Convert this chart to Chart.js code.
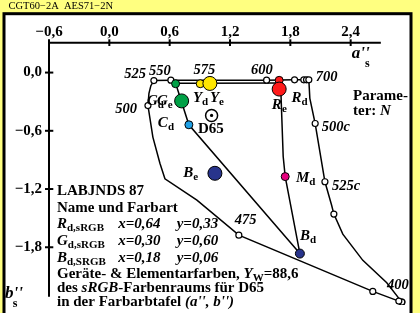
<!DOCTYPE html>
<html><head><meta charset="utf-8">
<script src="https://cdn.jsdelivr.net/npm/chart.js@4.4.1/dist/chart.umd.min.js"></script>
<style>html,body{margin:0;padding:0;background:#ffff80;overflow:hidden}canvas{display:block}</style>
</head><body>
<canvas id="c" width="420" height="313" style="width:420px;height:313px"></canvas>
<script>
// ---------- data ----------
const titleText = 'CGT60\u22122A  AES71\u22122N';
const xTicks = [-0.6, 0, 0.6, 1.2, 1.8, 2.4];
const yTicks = [0, -0.6, -1.2, -1.8];

// spectral locus (a'', b'')
const locusA = [2.909, 2.879, 2.620, 1.288, 0.871, 0.553, 0.503, 0.433, 0.384, 0.394, 0.413, 0.443, 0.612, 1.000, 1.564, 1.842, 1.934, 1.961, 1.984];
const locusB = [-2.365, -2.355, -2.255, -1.675, -1.315, -1.095, -0.935, -0.665, -0.340, -0.215, -0.135, -0.082, -0.078, -0.078, -0.078, -0.075, -0.075, -0.075, -0.075];
const locusMark = [1, 1, 1, 1, 0, 0, 0, 0, 1, 0, 0, 1, 1, 1, 1, 1, 1, 1, 1];
const locusLabels = ['400', '475', '500', '525', '550', '575', '600', '700'];
const locusLabelIdx = [0, 3, 8, 11, 12, 13, 14, 18];

// complementary (c) curve
const cCurveA = [1.984, 1.994, 2.047, 2.144, 2.210, 2.233, 2.322, 2.521, 2.759, 2.909];
const cCurveB = [-0.075, -0.265, -0.525, -1.125, -1.365, -1.458, -1.665, -1.935, -2.165, -2.365];
const cCurveMark = [0, 0, 1, 1, 0, 1, 0, 0, 0, 1];
const cCurveLabels = ['500c', '525c'];
const cCurveLabelIdx = [2, 3];

// device colours (d) and elementary colours (e)
const devNames = ['R', 'Y', 'G', 'C', 'B', 'M'];
const devA = [1.689, 0.904, 0.659, 0.791, 1.895, 1.749];
const devB = [-0.080, -0.115, -0.115, -0.538, -1.865, -1.072];
const devColors = ['#ff1a1a', '#ffe600', '#00a046', '#1ea0e6', '#28348c', '#e6007e'];
const elemNames = ['R', 'Y', 'G', 'B'];
const elemA = [1.689, 1.000, 0.719, 1.050];
const elemB = [-0.170, -0.112, -0.292, -1.038];
const elemColors = ['#ff1a1a', '#ffe600', '#00a046', '#28348c'];
const d65A = [1.017];
const d65B = [-0.442];

// gamut edges
const edgeTopA = [1.689, 0.904, 0.659];
const edgeTopB = [-0.108, -0.110, -0.110];
const edgeGCBA = [0.659, 0.791, 1.895];
const edgeGCBB = [-0.110, -0.538, -1.865];
const edgeRMBA = [1.689, 1.707, 1.729, 1.749, 1.895];
const edgeRMBB = [-0.080, -0.225, -0.865, -1.072, -1.865];

// text block
const blockTitle = 'LABJNDS 87';
const blockSub = 'Name und Farbart';
const primNames = ['R', 'G', 'B'];
const primSubs = ['d,sRGB', 'd,sRGB', 'd,SRGB'];
const primX = ['x=0,64', 'x=0,30', 'x=0,18'];
const primY = ['y=0,33', 'y=0,60', 'y=0,06'];
const yW = '=88,6';

const xAxisEnd = 2.7;
const yAxisEnd = -2.31;

// ---------- drawing ----------
const fam = '"Liberation Serif", "Times New Roman", serif';
const F = (w, s) => `${w} ${s}px ${fam}`;
const B15 = F('bold', 15), BI15 = F('italic bold', 15), SUB = F('bold', 11), BI14 = F('italic bold', 14.5);
const pts = (A, B) => A.map((a, i) => ({ x: a, y: B[i] }));
const fmt = v => (v < 0 ? '\u2212' : '') + Math.abs(v).toFixed(1).replace('.', ',');

function runs(c, x, y, list) {
  for (const r of list) {
    c.font = r.f;
    c.fillText(r.t, x, y + (r.dy || 0));
    x += c.measureText(r.t).width;
  }
  return x;
}

const overlay = {
  id: 'overlay',
  beforeDraw(chart) {
    const c = chart.ctx;
    c.save();
    c.fillStyle = '#ffff80'; c.fillRect(0, 0, chart.width, chart.height);
    c.fillStyle = '#fff'; c.fillRect(4, 13.7, 407, 320);
    c.strokeStyle = '#000'; c.lineWidth = 3; c.strokeRect(4, 13.7, 407, 320);
    c.fillStyle = '#000'; c.font = F('normal', 10.5); c.textBaseline = 'alphabetic'; c.textAlign = 'left';
    c.fillText(titleText, 8.5, 8.5);
    c.restore();
  },
  afterDraw(chart) {
    const c = chart.ctx, xs = chart.scales.x, ys = chart.scales.y;
    const X = v => xs.getPixelForValue(v), Y = v => ys.getPixelForValue(v);
    c.save();
    c.strokeStyle = '#000'; c.fillStyle = '#000'; c.lineWidth = 2;
    const ay = chart.chartArea.top + 0.7, ax = X(-0.6);
    c.beginPath(); c.moveTo(ax - 1, ay); c.lineTo(X(xAxisEnd), ay); c.stroke();
    c.beginPath(); c.moveTo(ax, ay - 1); c.lineTo(ax, Y(yAxisEnd)); c.stroke();
    for (const v of xTicks) { const p = X(v); c.beginPath(); c.moveTo(p, ay - 3.4); c.lineTo(p, ay + 3.3); c.stroke(); }
    for (const v of yTicks) { const p = Y(v); c.beginPath(); c.moveTo(ax - 4, p); c.lineTo(ax + 4.3, p); c.stroke(); }

    c.textBaseline = 'alphabetic';
    // axis titles
    runs(c, 351.7, 58.3, [{ t: "a''", f: F('italic bold', 17) }]);
    runs(c, 365, 66.7, [{ t: 's', f: F('bold', 12) }]);
    runs(c, 5, 298, [{ t: "b''", f: F('italic bold', 17) }]);
    runs(c, 12.7, 307, [{ t: 's', f: F('bold', 12) }]);

    // wavelength labels
    const wlOff = [[-4, -13, 'center'], [-4, -11, 'left'], [-11, 7.5, 'right'], [-8, -3, 'right'], [0, -5, 'right'], [-5.5, -6, 'center'], [-4.7, -6, 'center'], [7, 1, 'left']];
    c.font = BI14;
    locusLabels.forEach((t, k) => {
      const i = locusLabelIdx[k], o = wlOff[k];
      c.textAlign = o[2];
      c.fillText(t, X(locusA[i]) + o[0], Y(locusB[i]) + o[1]);
    });
    const cOff = [[6.7, 7.5], [7, 8]];
    c.textAlign = 'left';
    cCurveLabels.forEach((t, k) => {
      const i = cCurveLabelIdx[k];
      c.fillText(t, X(cCurveA[i]) + cOff[k][0], Y(cCurveB[i]) + cOff[k][1]);
    });

    // point labels
    const devOff = { R: [12.4, 21.5], Y: [-7.3, 18], G: [-28.7, 21.5], C: [-31, 2.7], B: [0, -14], M: [10.7, 5.3] };
    devNames.forEach((n, i) => {
      const o = devOff[n];
      runs(c, X(devA[i]) + o[0], Y(devB[i]) + o[1], [{ t: n, f: BI15 }, { t: 'd', f: SUB, dy: 3 }]);
    });
    const elemOff = { R: [-7.3, 19.5], Y: [0, 18.3], G: [-24.7, 3.8], B: [-31.7, 3.4] };
    elemNames.forEach((n, i) => {
      const o = elemOff[n];
      runs(c, X(elemA[i]) + o[0], Y(elemB[i]) + o[1], [{ t: n, f: BI15 }, { t: 'e', f: SUB, dy: 3 }]);
    });
    runs(c, X(d65A[0]) - 13.7, Y(d65B[0]) + 17.3, [{ t: 'D65', f: B15 }]);

    // parameter note
    runs(c, 353, 100, [{ t: 'Parame-', f: B15 }]);
    runs(c, 353, 115, [{ t: 'ter: ', f: B15 }, { t: 'N', f: BI15 }]);

    // text block
    const L = 57;
    runs(c, L, 195, [{ t: blockTitle, f: B15 }]);
    runs(c, L, 211.5, [{ t: blockSub, f: B15 }]);
    const rowY = [228, 244.8, 261.5];
    primNames.forEach((n, i) => {
      runs(c, L, rowY[i], [{ t: n, f: BI15 }, { t: primSubs[i], f: SUB, dy: 3 }]);
      runs(c, 118.3, rowY[i], [{ t: primX[i], f: BI15 }]);
      runs(c, 176.7, rowY[i], [{ t: primY[i], f: BI15 }]);
    });
    runs(c, L, 278, [{ t: 'Ger\u00e4te- & Elementarfarben, ', f: B15 }, { t: 'Y', f: BI15 }, { t: 'W', f: SUB, dy: 3 }, { t: yW, f: B15 }]);
    runs(c, L, 291.7, [{ t: 'des ', f: B15 }, { t: 'sRGB', f: BI15 }, { t: '-Farbenraums f\u00fcr D65', f: B15 }]);
    runs(c, L, 305.5, [{ t: 'in der Farbarbtafel ', f: B15 }, { t: "(a'', b'')", f: BI15 }]);
    c.restore();
  }
};

const lineDS = (A, B, extra) => Object.assign({
  data: pts(A, B), showLine: true, borderColor: '#000', borderWidth: 1.5, fill: false, tension: 0,
  pointRadius: 0, pointBackgroundColor: '#fff', pointBorderColor: '#000', pointBorderWidth: 1.2
}, extra);

const zeroPad = s => { s.paddingTop = 0; s.paddingBottom = 0; s.paddingLeft = 0; s.paddingRight = 0; };

new Chart(document.getElementById('c'), {
  type: 'scatter',
  data: {
    datasets: [
      lineDS(locusA, locusB, { label: 'locus', pointRadius: locusMark.map(m => m ? 3 : 0), order: 10 }),
      lineDS(cCurveA, cCurveB, { label: 'c', pointRadius: cCurveMark.map(m => m ? 3 : 0), order: 10 }),
      lineDS(edgeTopA, edgeTopB, { label: 'top', order: 11 }),
      lineDS(edgeGCBA, edgeGCBB, { label: 'gcb', order: 11 }),
      lineDS(edgeRMBA, edgeRMBB, { label: 'rmb', order: 11 }),
      { label: 'dev', data: pts(devA, devB), showLine: false, pointRadius: devNames.map(n => n === 'B' ? 4.5 : 4),
        pointBackgroundColor: devColors, pointBorderColor: '#000', pointBorderWidth: 1, order: 5 },
      { label: 'elem', data: pts(elemA, elemB), showLine: false, pointRadius: 7,
        pointBackgroundColor: elemColors, pointBorderColor: '#000', pointBorderWidth: 1, order: 4 },
      { label: 'd65ring', data: pts(d65A, d65B), showLine: false, pointRadius: 6, pointBackgroundColor: '#fff',
        pointBorderColor: '#000', pointBorderWidth: 1.5, order: 3 },
      { label: 'd65dot', data: pts(d65A, d65B), showLine: false, pointRadius: 1.6, pointBackgroundColor: '#000',
        pointBorderColor: '#000', pointBorderWidth: 0, order: 2 }
    ]
  },
  options: {
    responsive: false, animation: false, devicePixelRatio: 1,
    layout: { padding: { left: 0, right: 9, top: 0, bottom: 0 } },
    plugins: { legend: { display: false }, tooltip: { enabled: false } },
    events: [],
    scales: {
      x: {
        type: 'linear', position: 'top', min: -0.6, max: 3.0,
        afterBuildTicks: s => { s.ticks = xTicks.map(v => ({ value: v })); },
        afterFit: s => { s.height = 42; zeroPad(s); },
        grid: { display: false, drawTicks: false }, border: { display: false },
        ticks: { font: { family: fam, size: 15, weight: 'bold' }, color: '#000', padding: 1, maxRotation: 0, autoSkip: false, callback: v => fmt(v) }
      },
      y: {
        type: 'linear', position: 'left', min: -2.395, max: 0.315,
        afterBuildTicks: s => { s.ticks = yTicks.map(v => ({ value: v })); },
        afterFit: s => { s.width = 49; zeroPad(s); },
        grid: { display: false, drawTicks: false }, border: { display: false },
        ticks: { font: { family: fam, size: 15, weight: 'bold' }, color: '#000', padding: 7, autoSkip: false, callback: v => fmt(v) }
      }
    }
  },
  plugins: [overlay]
});
</script>
</body></html>
